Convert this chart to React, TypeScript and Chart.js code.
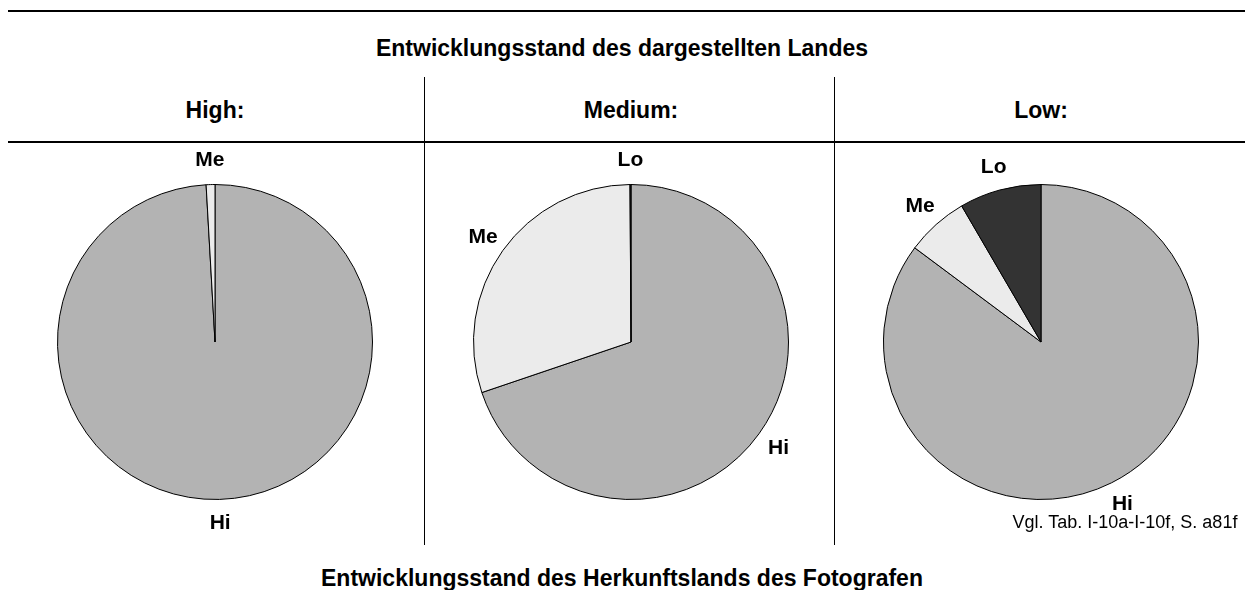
import React, { useEffect, useRef } from "react";
import { Chart, registerables } from "chart.js";

Chart.register(...registerables);

const categories = ["Hi", "Me", "Lo"];
const highValues = [99.1, 0.9, 0];
const mediumValues = [69.8, 30.1, 0.1];
const lowValues = [85.2, 6.4, 8.4];
const panelTitles = ["High:", "Medium:", "Low:"];
const colors = ["#b3b3b3", "#ebebeb", "#333333"];

const FONT = "'Liberation Sans', Arial, sans-serif";

const labelPlugin = {
  id: "sliceLabels",
  afterDatasetsDraw(chart: any) {
    const ctx = chart.ctx;
    const meta = chart.getDatasetMeta(0);
    const data = chart.data.datasets[0].data;
    ctx.save();
    ctx.font = `bold 21px ${FONT}`;
    ctx.fillStyle = "#000";
    ctx.textAlign = "center";
    ctx.textBaseline = "middle";
    meta.data.forEach((arc: any, i: number) => {
      if (!(data[i] > 0)) return;
      const p = arc.getProps(["x", "y", "startAngle", "endAngle", "outerRadius"], true);
      const mid = (p.startAngle + p.endAngle) / 2;
      const d = p.outerRadius + 24;
      ctx.fillText(chart.data.labels[i], p.x + Math.cos(mid) * d, p.y + Math.sin(mid) * d);
    });
    ctx.restore();
  },
};

function Pie({ values, left }: { values: number[]; left: number }) {
  const ref = useRef<HTMLCanvasElement>(null);
  useEffect(() => {
    const chart = new Chart(ref.current as HTMLCanvasElement, {
      type: "pie",
      data: {
        labels: categories,
        datasets: [
          {
            data: values,
            backgroundColor: colors,
            borderColor: "#000",
            borderWidth: 1,
          },
        ],
      },
      options: {
        responsive: false,
        animation: false,
        events: [],
        layout: { padding: 42 },
        plugins: { legend: { display: false }, tooltip: { enabled: false } },
      },
      plugins: [labelPlugin],
    });
    return () => chart.destroy();
  }, []);
  return (
    <canvas
      ref={ref}
      width={400}
      height={400}
      style={{ position: "absolute", left, top: 142, width: 400, height: 400 }}
    />
  );
}

const textStyle: React.CSSProperties = {
  position: "absolute",
  fontFamily: FONT,
  fontWeight: "bold",
  color: "#000",
  whiteSpace: "nowrap",
  transform: "translate(-50%, -50%)",
};

export default function App() {
  const centers = [215, 631, 1041];
  return (
    <div style={{ position: "absolute", left: 0, top: 0, width: 1245, height: 590, background: "#fff", overflow: "hidden" }}>
      <div style={{ position: "absolute", left: 8, top: 10, width: 1237, height: 2, background: "#000" }} />
      <div style={{ position: "absolute", left: 8, top: 141, width: 1237, height: 2, background: "#000" }} />
      <div style={{ position: "absolute", left: 424, top: 77, width: 1, height: 468, background: "#000" }} />
      <div style={{ position: "absolute", left: 834, top: 77, width: 1, height: 468, background: "#000" }} />
      <div style={{ ...textStyle, left: 622, top: 48, fontSize: 23 }}>Entwicklungsstand des dargestellten Landes</div>
      {panelTitles.map((t, i) => (
        <div key={t} style={{ ...textStyle, left: centers[i], top: 110, fontSize: 23 }}>{t}</div>
      ))}
      <Pie values={highValues} left={centers[0] - 200} />
      <Pie values={mediumValues} left={centers[1] - 200} />
      <Pie values={lowValues} left={centers[2] - 200} />
      <div style={{ ...textStyle, fontWeight: "normal", left: 1125, top: 522, fontSize: 18 }}>Vgl. Tab. I-10a-I-10f, S. a81f</div>
      <div style={{ ...textStyle, left: 622, top: 578, fontSize: 23 }}>Entwicklungsstand des Herkunftslands des Fotografen</div>
    </div>
  );
}
